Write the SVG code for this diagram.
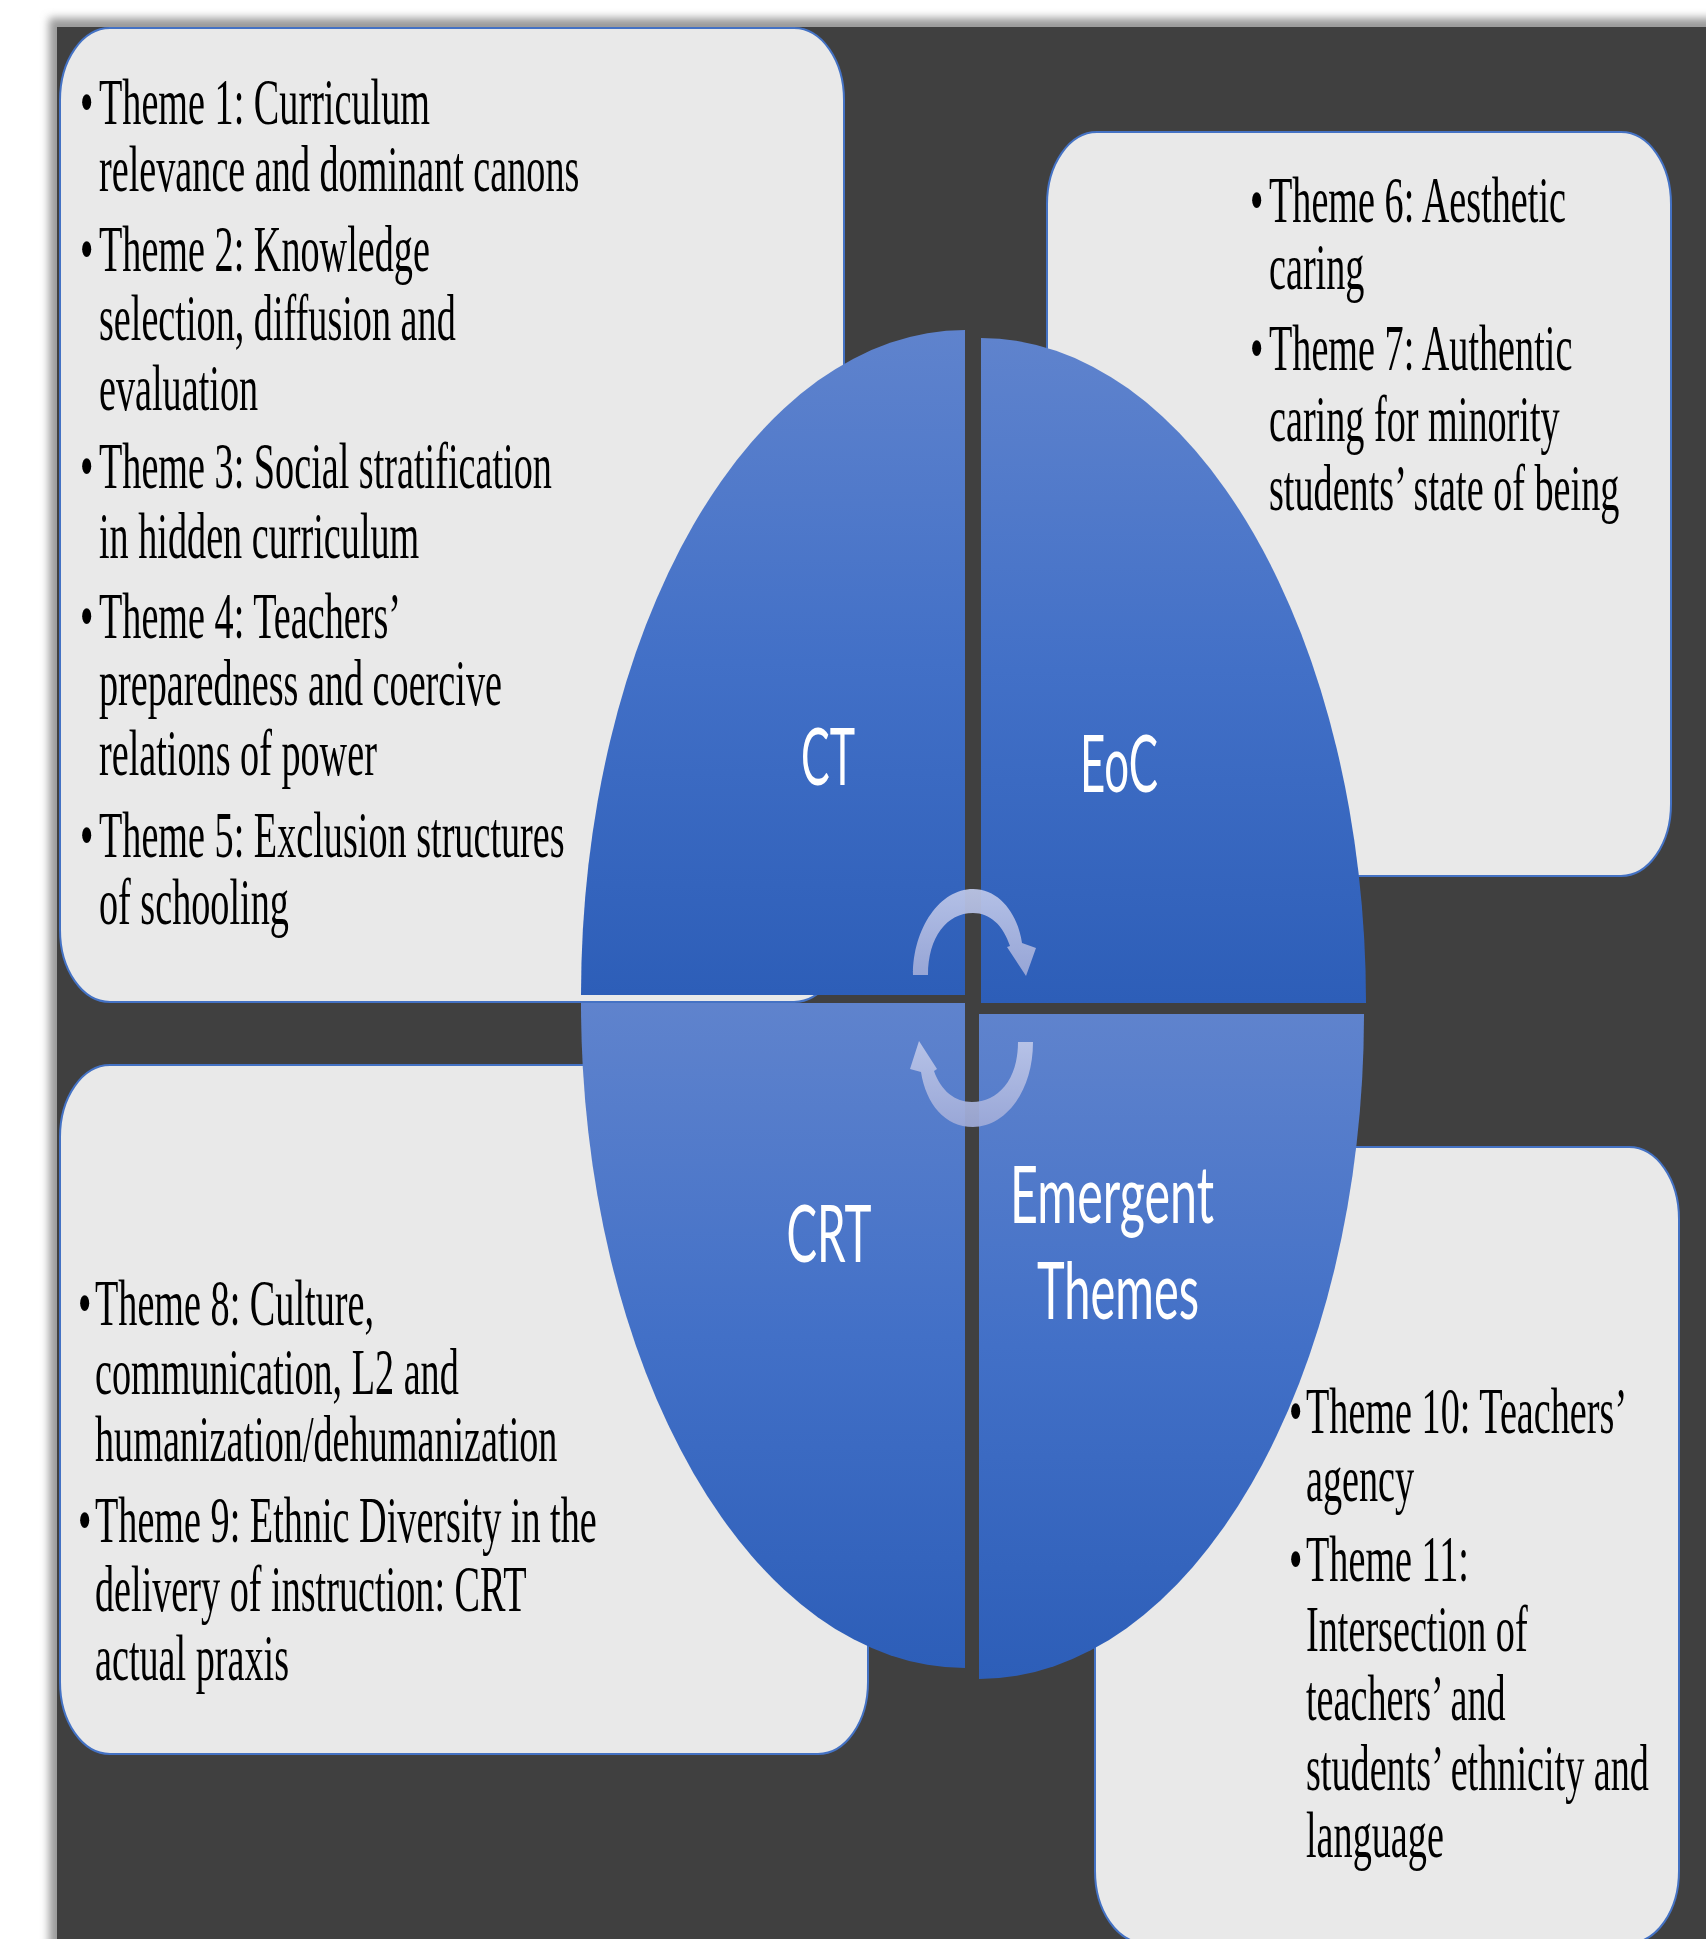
<svg xmlns="http://www.w3.org/2000/svg" width="1706" height="1939" viewBox="0 0 1706 1939">
  <defs>
    <style>
      .box { fill: #e9e9e9; stroke: #4472c4; stroke-width: 2; }
      .body { font-family: "Liberation Serif", "Times New Roman", serif; font-size: 38.2px; fill: #000; }
      .label { font-family: Lato, "Noto Sans", sans-serif; font-size: 46px; fill: #fff; text-anchor: middle; }
      .top-q { fill: url(#quadFill); }
      .cyc { fill: url(#arrowFill); opacity: 0.93; }
    </style>
    <linearGradient id="quadFill" x1="0" y1="0" x2="0" y2="1">
      <stop offset="0" stop-color="#5f83cd"/>
      <stop offset="0.5" stop-color="#4270c7"/>
      <stop offset="1" stop-color="#2d5eb8"/>
    </linearGradient>
    <linearGradient id="arrowFill" x1="0" y1="0" x2="0" y2="1">
      <stop offset="0" stop-color="#bdc7e9"/>
      <stop offset="1" stop-color="#9eaad8"/>
    </linearGradient>
    <filter id="soft" x="-5%" y="-5%" width="110%" height="110%">
      <feGaussianBlur stdDeviation="4"/>
    </filter>
  </defs>

  <!-- page and dark panel with its soft shadow -->
  <rect x="0" y="0" width="1706" height="1939" fill="#ffffff"/>
  <rect x="49" y="18" width="1700" height="1960" fill="#9a9a9a" filter="url(#soft)"/>
  <rect x="57" y="27" width="1680" height="1940" fill="#404040"/>

  <!-- corner text boxes -->
  <g id="box-ct">
    <rect class="box" x="60" y="28" width="784" height="974" rx="50" ry="72"/>
    <text class="body" transform="scale(1 1.72)">
      <tspan x="80" y="72.09">•</tspan><tspan x="99" y="72.09">Theme 1: Curriculum</tspan>
      <tspan x="99" y="111.05">relevance and dominant canons</tspan>
      <tspan x="80" y="157.56">•</tspan><tspan x="99" y="157.56">Theme 2: Knowledge</tspan>
      <tspan x="99" y="197.67">selection, diffusion and</tspan>
      <tspan x="99" y="238.37">evaluation</tspan>
      <tspan x="80" y="283.72">•</tspan><tspan x="99" y="283.72">Theme 3: Social stratification</tspan>
      <tspan x="99" y="324.42">in hidden curriculum</tspan>
      <tspan x="80" y="370.93">•</tspan><tspan x="99" y="370.93">Theme 4: Teachers’</tspan>
      <tspan x="99" y="409.88">preparedness and coercive</tspan>
      <tspan x="99" y="450.58">relations of power</tspan>
      <tspan x="80" y="498.26">•</tspan><tspan x="99" y="498.26">Theme 5: Exclusion structures</tspan>
      <tspan x="99" y="537.21">of schooling</tspan>
    </text>
  </g>

  <g id="box-eoc">
    <rect class="box" x="1047" y="132" width="624" height="744" rx="50" ry="72"/>
    <text class="body" transform="scale(1 1.72)">
      <tspan x="1250" y="129.07">•</tspan><tspan x="1269" y="129.07">Theme 6: Aesthetic</tspan>
      <tspan x="1269" y="168.02">caring</tspan>
      <tspan x="1250" y="215.12">•</tspan><tspan x="1269" y="215.12">Theme 7: Authentic</tspan>
      <tspan x="1269" y="256.40">caring for minority</tspan>
      <tspan x="1269" y="296.51">students’ state of being</tspan>
    </text>
  </g>

  <g id="box-crt">
    <rect class="box" x="60" y="1065" width="808" height="689" rx="50" ry="72"/>
    <text class="body" transform="scale(1 1.72)">
      <tspan x="78" y="770.35">•</tspan><tspan x="95" y="770.35">Theme 8: Culture,</tspan>
      <tspan x="95" y="810.47">communication, L2 and</tspan>
      <tspan x="95" y="849.42">humanization/dehumanization</tspan>
      <tspan x="78" y="896.51">•</tspan><tspan x="95" y="896.51">Theme 9: Ethnic Diversity in the</tspan>
      <tspan x="95" y="936.63">delivery of instruction: CRT</tspan>
      <tspan x="95" y="976.74">actual praxis</tspan>
    </text>
  </g>

  <g id="box-emergent">
    <rect class="box" x="1095" y="1147" width="584" height="796" rx="50" ry="72"/>
    <text class="body" transform="scale(1 1.72)">
      <tspan x="1289" y="833.14">•</tspan><tspan x="1306" y="833.14">Theme 10: Teachers’</tspan>
      <tspan x="1306" y="872.67">agency</tspan>
      <tspan x="1289" y="919.19">•</tspan><tspan x="1306" y="919.19">Theme 11:</tspan>
      <tspan x="1306" y="959.88">Intersection of</tspan>
      <tspan x="1306" y="1000.00">teachers’ and</tspan>
      <tspan x="1306" y="1040.70">students’ ethnicity and</tspan>
      <tspan x="1306" y="1079.65">language</tspan>
    </text>
  </g>

  <!-- central quadrants of the split ellipse -->
  <g id="node-ct">
    <path class="top-q" d="M965,995 L581,995 A384,665 0 0 1 965,330 Z"/>
    <text class="label" x="828" y="456.40" transform="scale(1 1.72)" textLength="54" lengthAdjust="spacingAndGlyphs">CT</text>
  </g>
  <g id="node-eoc">
    <path class="top-q" d="M981,1003 L981,338 A385,665 0 0 1 1366,1003 Z"/>
    <text class="label" x="1119" y="460.47" transform="scale(1 1.72)" textLength="78" lengthAdjust="spacingAndGlyphs">EoC</text>
  </g>
  <g id="node-crt">
    <path class="top-q" d="M965,1003 L965,1668 A384,665 0 0 1 581,1003 Z"/>
    <text class="label" x="829" y="733.72" transform="scale(1 1.72)" textLength="85" lengthAdjust="spacingAndGlyphs">CRT</text>
  </g>
  <g id="node-emergent">
    <path class="top-q" d="M979,1014 L1364,1014 A385,665 0 0 1 979,1679 Z"/>
    <text class="label" transform="scale(1 1.72)">
      <tspan x="1118" y="711.05" textLength="204" lengthAdjust="spacingAndGlyphs">Emergent</tspan>
      <tspan x="1118" y="766.86" textLength="162" lengthAdjust="spacingAndGlyphs">Themes</tspan>
    </text>
  </g>

  <!-- cycle arrows between the quadrants -->
  <g id="connectors">
    <path class="cyc" d="M913,975 C913,928 940,889 973,889 C1000,889 1018,915 1022,943 L1036,948 L1026,976 L1007,947 L1010,946 C1003,925 990,913 973,913 C947,913 928,937 928,975 Z"/>
    <path class="cyc" d="M1033,1042 C1033,1092 1005,1127 973,1127 C945,1127 926,1104 921,1072 L910,1069 L919,1041 L937,1069 L934,1071 C941,1091 955,1102 972,1102 C998,1102 1018,1080 1018,1042 Z"/>
  </g>
</svg>
